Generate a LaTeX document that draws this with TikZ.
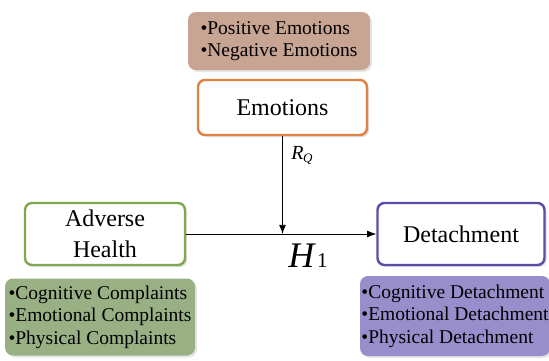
\documentclass[tikz,border=0pt]{standalone}
\usepackage{fontspec}
\setmainfont{Liberation Serif}
\usepackage{tikz}
\usetikzlibrary{positioning, shapes, shadows}
\usetikzlibrary{arrows.meta}

\definecolor{emoline}{RGB}{224,128,66}
\definecolor{emofill}{RGB}{200,164,146}
\definecolor{healthline}{RGB}{128,168,78}
\definecolor{healthfill}{RGB}{152,176,132}
\definecolor{detline}{RGB}{88,78,168}
\definecolor{detfill}{RGB}{152,142,204}

\begin{document}
\begin{tikzpicture}[x=1pt, y=-1pt]
                \tikzset{concept/.style = {draw, fill=white, rounded corners=7pt, line width=2.4pt, align=center,
                    font=\fontsize{24}{31}\selectfont, drop shadow={opacity=0.25, shadow xshift=2pt, shadow yshift=-2pt}}}
                \tikzset{facets/.style = {rounded corners=8pt, align=left, inner sep=1pt,
                    font=\fontsize{19.5}{22.5}\selectfont, drop shadow={opacity=0.2, shadow xshift=2pt, shadow yshift=-2pt}}}
                \tikzset{link/.style = {-{Latex[length=3.2mm, width=2.4mm]}, line width=0.8pt}}

                \useasboundingbox (0,0) rectangle (549,360);

                % boxes
                \node[facets, fill=emofill, minimum width=182pt, minimum height=58pt] (emolist) at (279,41)
                    {\textbullet Positive Emotions\\ \textbullet Negative Emotions};
                \node[concept, draw=emoline, minimum width=169pt, minimum height=55pt] (emotions) at (282.5,107.5) {Emotions};

                \node[concept, draw=healthline, minimum width=160pt, minimum height=62pt] (health) at (105,234) {Adverse\\ Health};
                \node[concept, draw=detline, minimum width=167pt, minimum height=62pt] (detach) at (461,234) {Detachment};

                \node[facets, fill=healthfill, minimum width=190pt, minimum height=77pt] (healthlist) at (100,317)
                    {\textbullet Cognitive Complaints\\ \textbullet Emotional Complaints\\ \textbullet Physical Complaints};
                \node[facets, fill=detfill, minimum width=190pt, minimum height=80pt] (detlist) at (455,316)
                    {\textbullet Cognitive Detachment\\ \textbullet Emotional Detachment\\ \textbullet Physical Detachment};

                % arrows
                \coordinate (meet) at (emotions.south |- health.east);
                \draw[link] (health) -- (detach);
                \draw[link] (emotions) -- (meet);

                \node[font=\fontsize{20}{20}\selectfont] (rq) at (302,155) {\textit{R}\kern-0.5pt\raisebox{-3pt}{\fontsize{13}{13}\selectfont\textit{Q}}};
                \node[font=\fontsize{36}{36}\selectfont] (h1) at (308,256) {\textit{H}\kern1pt{\fontsize{21}{21}\selectfont 1}};

                \end{tikzpicture}
\end{document}
